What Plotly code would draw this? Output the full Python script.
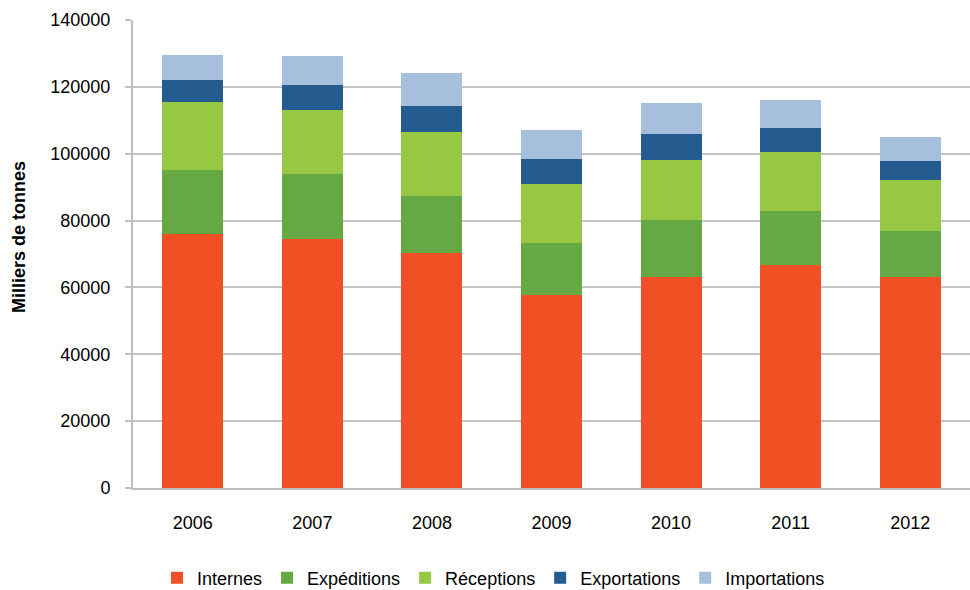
import plotly.graph_objects as go

years = ["2006", "2007", "2008", "2009", "2010", "2011", "2012"]
internes = [76000, 74500, 70400, 57800, 63000, 66700, 63200]
expeditions = [19000, 19300, 16900, 15500, 17300, 16300, 13600]
receptions = [20500, 19400, 19100, 17500, 17700, 17600, 15300]
exportations = [6700, 7500, 8000, 7600, 8000, 7000, 5600]
importations = [7300, 8600, 9700, 8600, 9100, 8600, 7300]

series = [
    ("Internes", internes, "#F05023"),
    ("Expéditions", expeditions, "#66A844"),
    ("Réceptions", receptions, "#96C844"),
    ("Exportations", exportations, "#245C8F"),
    ("Importations", importations, "#A5BFDD"),
]

fig = go.Figure()
for name, vals, col in series:
    fig.add_trace(go.Bar(x=years, y=vals, name=name, marker=dict(color=col, line=dict(width=0))))

font_family = "Liberation Sans, Arial, sans-serif"
fig.update_layout(
    barmode="stack",
    bargap=0.49,
    width=970, height=590,
    margin=dict(l=133, r=0, t=20, b=102),
    paper_bgcolor="white", plot_bgcolor="white",
    font=dict(family=font_family, size=18, color="#000000"),
    showlegend=True,
    legend=dict(orientation="h", xref="container", yref="container",
                x=157 / 970, xanchor="left", y=1 - 578 / 590, yanchor="middle",
                font=dict(size=18), traceorder="normal",
                itemwidth=30, tracegroupgap=0),
    xaxis=dict(showline=True, linecolor="#BFBFBF", linewidth=2, ticks="",
               ticklabelstandoff=17, tickfont=dict(size=18)),
    yaxis=dict(range=[0, 140000], dtick=20000, tickformat="d",
               showgrid=True, gridcolor="#C4C4C4", gridwidth=2,
               showline=True, linecolor="#BFBFBF", linewidth=2,
               ticks="outside", ticklen=6, tickcolor="#BFBFBF", tickwidth=2,
               ticklabelstandoff=11, zeroline=False, tickfont=dict(size=18)),
    annotations=[dict(text="<b>Milliers de tonnes</b>", xref="paper", yref="paper",
                      x=-(133 - 19) / 837, y=(488 - 237) / 468, textangle=-90,
                      showarrow=False, xanchor="center", yanchor="middle",
                      font=dict(size=18, color="#000"))],
)

fig.write_html("out.html", config={"displayModeBar": False},
               post_script="document.body.style.margin='0px';document.body.style.overflow='hidden';")
